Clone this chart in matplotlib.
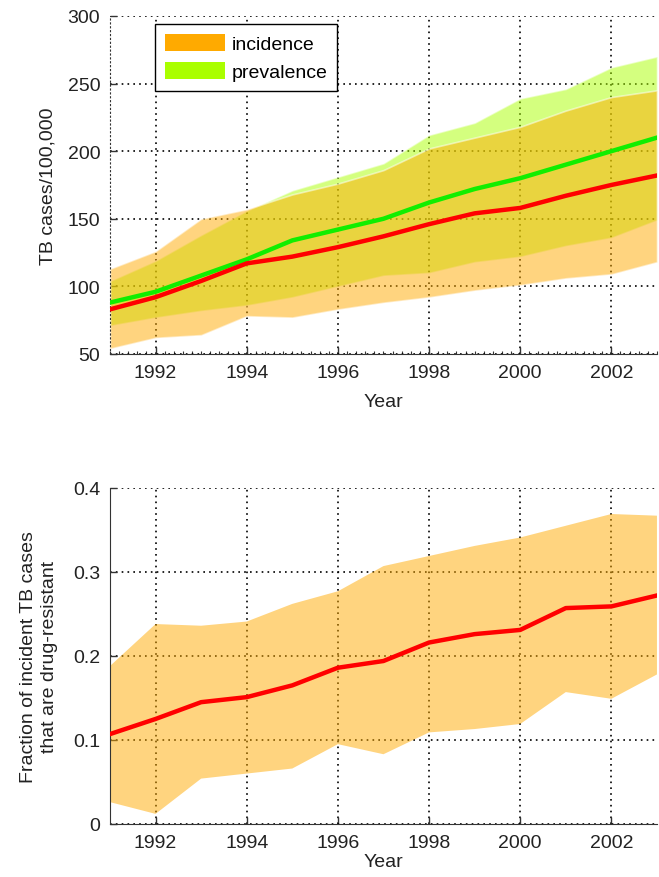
import matplotlib
matplotlib.use("Agg")
import matplotlib.pyplot as plt
from matplotlib.patches import Patch
from matplotlib.ticker import MultipleLocator, FixedLocator
import numpy as np

plt.rcParams['font.family'] = ['Liberation Sans', 'DejaVu Sans']
plt.rcParams['font.size'] = 14

# data
years = np.arange(1991, 2004)

# top panel: TB cases / 100,000
inc_mid = [83, 92, 104, 117, 122, 129, 137, 146, 154, 158, 167, 175, 182]
inc_low = [54, 62, 64, 78, 77, 83, 88, 92, 97, 101, 106, 109, 118]
inc_high = [113, 126, 150, 157, 168, 176, 186, 202, 210, 218, 230, 240, 245]

prev_mid = [88, 96, 108, 120, 134, 142, 150, 162, 172, 180, 190, 200, 210]
prev_low = [71, 77, 82, 86, 92, 100, 108, 110, 118, 122, 130, 136, 149]
prev_high = [104, 119, 138, 156, 171, 181, 191, 212, 221, 239, 246, 262, 270]

# bottom panel: fraction drug-resistant
frac_mid = [0.107, 0.125, 0.145, 0.151, 0.165, 0.186, 0.194, 0.216, 0.226, 0.231, 0.257, 0.259, 0.272]
frac_low = [0.026, 0.012, 0.054, 0.060, 0.066, 0.095, 0.083, 0.109, 0.113, 0.119, 0.157, 0.149, 0.178]
frac_high = [0.188, 0.238, 0.236, 0.241, 0.262, 0.277, 0.307, 0.319, 0.331, 0.341, 0.355, 0.369, 0.367]

ORANGE = '#FFAA00'
GREEN = '#AAFF00'
grid_style = dict(color='black', linestyle=(0, (1, 2.5)), linewidth=1.2)

fig = plt.figure(figsize=(6.59, 8.78), dpi=100)
ax1 = fig.add_axes([0.1669, 0.5957, 0.830, 0.3850])
ax2 = fig.add_axes([0.1669, 0.0604, 0.830, 0.3827])

# ---- top panel
ax1.fill_between(years, prev_low, prev_high, facecolor=GREEN, alpha=0.5,
                 edgecolor='white', linewidth=1.2, zorder=2)
ax1.fill_between(years, inc_low, inc_high, facecolor=ORANGE, alpha=0.5,
                 edgecolor='white', linewidth=1.2, zorder=2.1)
ax1.plot(years, prev_mid, color='#11EE00', linewidth=3.2, zorder=3)
ax1.plot(years, inc_mid, color='#FF0000', linewidth=3.2, zorder=3)

ax1.set_xlim(1991, 2003)
ax1.set_ylim(50, 300)
ax1.set_yticks([50, 100, 150, 200, 250, 300])
ax1.set_xticks([1992, 1994, 1996, 1998, 2000, 2002])
ax1.xaxis.set_minor_locator(MultipleLocator(0.2))
ax1.set_xlabel('Year', labelpad=9)
ax1.set_ylabel('TB cases/100,000')
ax1.yaxis.set_label_coords(-0.097, 0.5)
ax1.spines['left'].set_linestyle((0, (1, 2.5)))

leg = ax1.legend(handles=[Patch(facecolor=ORANGE, edgecolor='none', label='incidence'),
                          Patch(facecolor=GREEN, edgecolor='none', label='prevalence')],
                 loc='upper left', bbox_to_anchor=(0.082, 0.976), fancybox=False,
                 framealpha=1, edgecolor='black', handlelength=3.1, handleheight=1.0,
                 handletextpad=0.35, labelspacing=0.45, borderpad=0.5, borderaxespad=0)
leg.get_frame().set_linewidth(1.0)

# ---- bottom panel
ax2.fill_between(years, frac_low, frac_high, facecolor=ORANGE, alpha=0.5,
                 edgecolor='none', zorder=2)
ax2.plot(years, frac_mid, color='#FF0000', linewidth=3.2, zorder=3)

ax2.set_xlim(1991, 2003)
ax2.set_ylim(0, 0.4)
ax2.yaxis.set_major_locator(FixedLocator([0, 0.1, 0.2, 0.3, 0.4]))
ax2.set_yticklabels(['0', '0.1', '0.2', '0.3', '0.4'])
ax2.set_xticks([1992, 1994, 1996, 1998, 2000, 2002])
ax2.set_xlabel('Year', labelpad=2)
ax2.set_ylabel('Fraction of incident TB cases\nthat are drug-resistant', linespacing=1.3)
ax2.yaxis.set_label_coords(-0.095, 0.5)

for ax in (ax1, ax2):
    ax.set_axisbelow(True)
    ax.grid(True, **grid_style)
    ax.spines['top'].set_visible(False)
    ax.spines['right'].set_visible(False)
    ax.spines['left'].set_color('#333333')
    ax.spines['bottom'].set_color('#333333')
    ax.tick_params(direction='in', length=5, width=1, colors='#333333',
                   labelcolor='#222222', pad=7, labelsize=14)
    ax.tick_params(which='minor', direction='in', length=2.5, width=0.8, colors='#333333')
    ax.xaxis.label.set_color('#222222')
    ax.yaxis.label.set_color('#222222')

fig.savefig('out.png', dpi=100)
